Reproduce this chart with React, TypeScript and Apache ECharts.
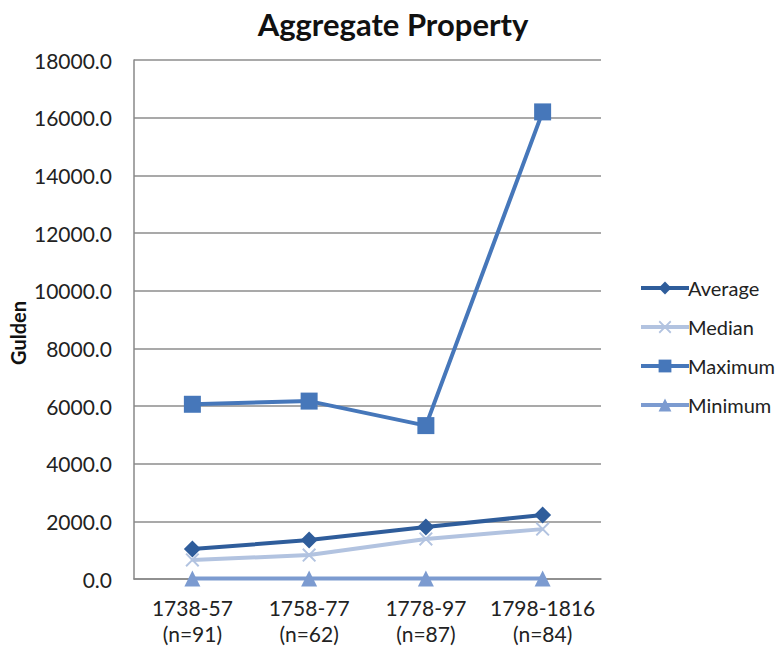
import React, { useEffect, useRef } from "react";
import * as echarts from "echarts";

const periods = ["1738-57\n(n=91)", "1758-77\n(n=62)", "1778-97\n(n=87)", "1798-1816\n(n=84)"];
const averageValues = [1040, 1350, 1800, 2220];
const medianValues = [660, 830, 1390, 1730];
const maximumValues = [6060, 6170, 5320, 16200];
const minimumValues = [20, 20, 20, 20];

const yMin = 0;
const yMax = 18000;
const yStep = 2000;

const FONT = "Lato, 'Open Sans', sans-serif";
const CROSS = "path://M0,1 L1,0 L5,4 L9,0 L10,1 L6,5 L10,9 L9,10 L5,6 L1,10 L0,9 L4,5 Z";

export default function App() {
  const ref = useRef<HTMLDivElement>(null);

  useEffect(() => {
    if (!ref.current) return;
    const chart = echarts.init(ref.current, null, { renderer: "svg" });

    const lineSeries = (name: string, data: number[], color: string, symbol: string, size: number) => ({
      name,
      type: "line",
      data,
      symbol,
      symbolSize: size,
      lineStyle: { color, width: 4 },
      itemStyle: { color },
      z: 3,
    });

    chart.setOption({
      animation: false,
      backgroundColor: "#ffffff",
      textStyle: { fontFamily: FONT },
      title: {
        text: "Aggregate Property",
        left: 388,
        top: 3,
        textAlign: "center",
        textStyle: { fontFamily: FONT, fontSize: 31, fontWeight: "bold", color: "#111" },
      },
      grid: { left: 134, right: 180, top: 60, bottom: 68, containLabel: false },
      xAxis: {
        type: "category",
        data: periods,
        boundaryGap: true,
        axisLine: { show: true, lineStyle: { color: "#888", width: 1.5 } },
        axisTick: { show: false },
        axisLabel: { interval: 0, fontFamily: FONT, fontSize: 21, color: "#222", lineHeight: 26, margin: 15 },
      },
      yAxis: {
        type: "value",
        min: yMin,
        max: yMax,
        interval: yStep,
        axisLine: { show: true, lineStyle: { color: "#888", width: 1.5 } },
        axisTick: { show: false },
        splitLine: { lineStyle: { color: "#8c8c8c", width: 1.5 } },
        axisLabel: {
          fontFamily: FONT,
          fontSize: 21,
          color: "#222",
          margin: 22,
          formatter: (v: number) => v.toFixed(1),
        },
      },
      legend: {
        orient: "vertical",
        left: 634,
        top: 273,
        itemWidth: 48,
        itemHeight: 16,
        itemGap: 19,
        lineStyle: { width: 4 },
        textStyle: { fontFamily: FONT, fontSize: 20, color: "#222", padding: [0, 0, 0, -6] },
        data: ["Average", "Median", "Maximum", "Minimum"],
      },
      graphic: [
        {
          type: "text",
          x: 18,
          y: 333,
          rotation: Math.PI / 2,
          style: {
            text: "Gulden",
            font: `bold 20px ${FONT}`,
            fill: "#111",
            align: "center",
            verticalAlign: "middle",
          },
        },
      ],
      series: [
        lineSeries("Average", averageValues, "#2F5D9B", "diamond", 17),
        lineSeries("Median", medianValues, "#B2C3E0", CROSS, 14),
        lineSeries("Maximum", maximumValues, "#4677BA", "rect", 17),
        lineSeries("Minimum", minimumValues, "#7C9BD0", "triangle", 16),
      ],
    });

    return () => chart.dispose();
  }, []);

  return <div ref={ref} style={{ position: "fixed", left: 0, top: 0, width: 781, height: 647 }} />;
}
